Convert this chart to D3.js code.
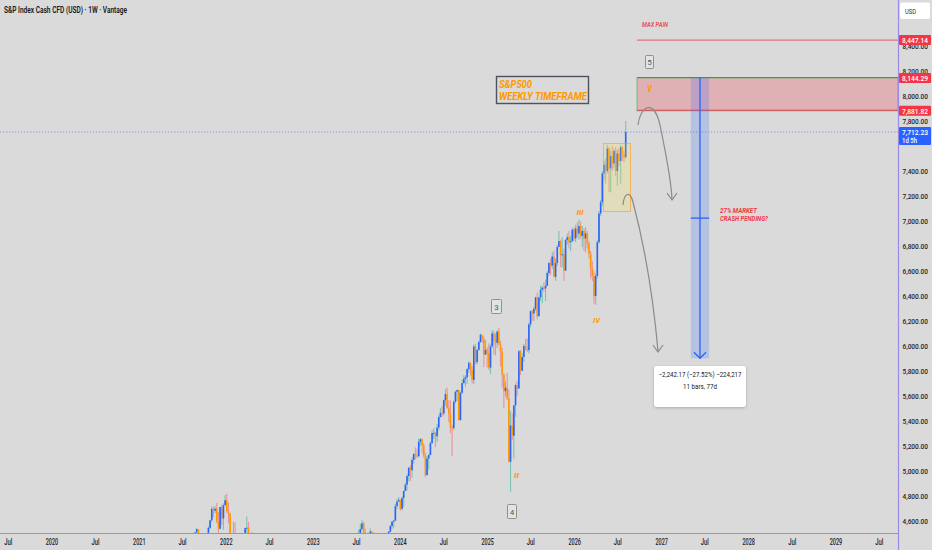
<!DOCTYPE html>
<html><head><meta charset="utf-8">
<script src="https://cdn.jsdelivr.net/npm/d3@7"></script>
<style>html,body{margin:0;padding:0;background:#dadada;overflow:hidden}</style>
</head><body>
<svg id="c" width="932" height="550"></svg>
<script>
// ---------------- DATA ----------------
const startWeek = "2021-07-05";   // Monday of first weekly bar
const firstOpen = 4353;
const weeklyClose = [
 4369,4327,4411,4395,4437,4468,4441,4509,4535,4458,4432,4455,4357,4391,4471,4545,4605,4697,4682,4698,4595,4538,4712,4620,4726,4766,
 4677,4662,4398,4432,4500, 4419,4349,4385,4329, 4204,4463,4543,4546, 4488,4393,4272,4132, 4123,4023,3901,4158,4109, 3901,3675,3912,3825, 3899,3863,3962,4130, 4145,4280,4228,4058,3924, 4067,3873,3693,3586, 3640,3583,3753,3901,3771, 3993,3965,4026,4072, 3934,3852,3845,3840,
 3895,3999,3973,4071,4136, 4090,4079,3970,4046, 3862,3917,3971,4109, 4105,4138,4133,4169, 4136,4124,4192,4205,4282, 4299,4409,4348,4450, 4399,4505,4536,4582,4478, 4464,4370,4406,4516, 4457,4450,4320,4288, 4308,4327,4224,4117,4358, 4415,4514,4559,4595, 4604,4719,4755,4770,
 4697,4784,4840,4891,4959, 5027,5006,5089,5137, 5124,5117,5234,5254, 5204,5123,4967,5100,5128, 5223,5303,5305,5278, 5347,5431,5465,5460, 5567,5615,5505,5459,5347, 5344,5554,5634,5648, 5408,5626,5703,5738,5751, 5815,5865,5808,5729, 5996,5871,5969,6032, 6090,6051,5931,5970,5942,
 5827,5997,6101,6041, 6026,6115,6013,5955, 5770,5639,5667,5581,5074, 5363,5283,5525,5687, 5660,5958,5802,5912, 6000,5977,5967,6173,6279, 6260,6297,6389,6238, 6389,6450,6467,6460, 6482,6584,6664,6644,6716, 6553,6664,6792,6840, 6728,6734,6603,6849, 6870,6830,6840,6930,6860,
 6940,6900,6960,6880, 6920,6860,6900,6820, 6740,6620,6560,6400,6560, 6830,7060,7150,7380, 7450,7400,7580,7420, 7520,7460,7560,7400,7540, 7480,7590,7530,7510, 7712.23
];
const weeklyHigh = [
 4372,4393,4415,4429,4442,4470,4480,4513,4545,4536,4486,4465,4466,4429,4475,4559,4608,4718,4714,4718,4744,4672,4713,4731,4740,4808,
 4819,4749,4660,4453,4595, 4590,4490,4385,4402, 4327,4465,4546,4637, 4593,4471,4513,4309, 4308,4081,4090,4159,4178, 4169,3838,3913,3946, 3918,3880,4012,4140, 4167,4280,4325,4218,4062, 4076,4119,3899,3733, 3806,3712,3762,3905,3911, 4001,4028,4034,4100, 4052,4101,3877,3878,
 3906,4003,4015,4094,4195, 4176,4195,4079,4049, 4079,3964,4039,4110, 4133,4163,4170,4170, 4187,4154,4212,4213,4291, 4322,4448,4408,4458, 4456,4528,4578,4607,4595, 4540,4490,4448,4541, 4515,4511,4466,4339, 4324,4398,4393,4259,4366, 4418,4520,4568,4596, 4609,4738,4778,4793,
 4754,4798,4842,4907,4976, 5031,5048,5111,5141, 5189,5179,5261,5264, 5263,5222,5149,5123,5139, 5239,5325,5342,5313, 5376,5447,5505,5523, 5570,5655,5669,5566,5566, 5370,5564,5643,5651, 5651,5636,5733,5767,5765, 5822,5878,5869,5842, 6012,6018,5978,6044, 6099,6085,6078,6050,5991,
 6022,6014,6128,6120, 6101,6127,6147,6043, 5986,5783,5715,5787,5655, 5481,5460,5528,5700, 5721,5969,5968,5943, 6016,6059,6060,6187,6284, 6290,6315,6395,6427, 6395,6482,6482,6508, 6533,6600,6672,6700,6750, 6765,6700,6808,6920, 6850,6870,6780,6855, 6900,6920,6880,6945,6950,
 6970,6990,7010,7000, 6960,6940,6950,6920, 6840,6760,6680,6600,6580, 6850,7080,7170,7400, 7480,7500,7610,7590, 7560,7600,7580,7590,7570, 7580,7610,7600,7560, 7800
];
const weeklyLow = [
 4321,4321,4233,4367,4385,4424,4367,4442,4514,4457,4427,4305,4288,4278,4329,4460,4537,4595,4630,4660,4585,4495,4532,4571,4531,4733,
 4662,4582,4395,4222,4451, 4401,4327,4115,4279, 4157,4161,4424,4506, 4450,4381,4267,4124, 4062,3859,3810,3875,4074, 3900,3637,3705,3738, 3743,3721,3819,3913, 4080,4112,4217,4057,3907, 3886,3856,3647,3584, 3637,3492,3590,3753,3698, 3764,3906,3933,3938, 3918,3827,3764,3783,
 3794,3877,3885,3949,4015, 4061,4048,3944,3928, 3847,3809,3899,3951, 4069,4072,4113,4049, 4048,4098,4109,4103,4166, 4261,4290,4341,4328, 4385,4389,4491,4524,4474, 4461,4335,4356,4406, 4430,4448,4316,4238, 4216,4289,4223,4104,4113, 4341,4406,4511,4537, 4546,4599,4697,4751,
 4682,4687,4714,4842,4845, 4917,4920,4946,5058, 5094,5104,5138,5203, 5146,5107,4953,5001,5011, 5128,5219,5257,5191, 5234,5327,5428,5433, 5444,5523,5497,5390,5302, 5119,5328,5540,5560, 5403,5402,5614,5698,5674, 5696,5784,5762,5703, 5696,5854,5853,5963, 6024,6024,5832,5933,5829,
 5809,5774,5989,5932, 5923,5986,6008,5837, 5667,5505,5597,5567,5069, 4835,5247,5101,5434, 5602,5786,5768,5843, 5873,5964,5952,5943,6150, 6202,6201,6281,6212, 6238,6360,6343,6437, 6360,6480,6560,6570,6616, 6550,6520,6640,6800, 6630,6630,6521,6600, 6810,6780,6760,6830,6840,
 6830,6870,6850,6860, 6790,6760,6750,6780, 6700,6540,6520,6340,6330, 6540,6820,7040,7120, 7330,7300,7380,7230, 7230,7400,7420,7360,7280, 7440,7300,7480,7470, 7500
];
// 7,600 is hidden behind the last-price tag in the reference, so it is not listed
const priceTicks = [4600,4800,5000,5200,5400,5600,5800,6000,6200,6400,6600,6800,7000,7200,7400,7800,8000,8200,8400];
const timeTicks = ["2019-07-01","2020-01-01","2020-07-01","2021-01-01","2021-07-01","2022-01-01","2022-07-01","2023-01-01","2023-07-01","2024-01-01","2024-07-01","2025-01-01","2025-07-01","2026-01-01","2026-07-01","2027-01-01","2027-07-01","2028-01-01","2028-07-01","2029-01-01","2029-07-01"];
const maxPainPrice = 8447.14;
const zoneTopPrice = 8144.29;
const zoneBottomPrice = 7881.82;
const lastPrice = 7712.23;
const measureTarget = 5902.12;
const measureStart = "2027-05-03", measureEnd = "2027-07-19";

// ---------------- SETUP ----------------
const W = 932, H = 550, plotR = 898, plotB = 533;
const svg = d3.select("#c");
const parse = d3.utcParse("%Y-%m-%d");
const x = d3.scaleUtc().domain([parse("2020-01-01"), parse("2029-01-01")]).range([52, 836]);
const y = d3.scaleLinear().domain([4504, 8768]).range([plotB, 0]);
const FONT = "Roboto, 'Liberation Sans', 'DejaVu Sans', sans-serif";

const defs = svg.append("defs");
defs.append("clipPath").attr("id","plotClip").append("rect").attr("x",0).attr("y",0).attr("width",plotR).attr("height",plotB);
const f = defs.append("filter").attr("id","shadow").attr("x","-20%").attr("y","-30%").attr("width","140%").attr("height","170%");
f.append("feDropShadow").attr("dx",0).attr("dy",1).attr("stdDeviation",1.5).attr("flood-color","#000").attr("flood-opacity",0.22);

function txt(g, px, py, s, o = {}) {
  const t = g.append("text").attr("x", px).attr("y", py).text(s)
    .attr("font-family", o.family || FONT)
    .attr("font-size", o.size || 8.5)
    .attr("fill", o.fill || "#131722")
    .attr("text-anchor", o.anchor || "start");
  if (o.weight) t.attr("font-weight", o.weight);
  if (o.italic) t.attr("font-style", "italic");
  if (o.width) t.attr("textLength", o.width).attr("lengthAdjust", "spacingAndGlyphs");
  return t;
}

svg.append("rect").attr("width", W).attr("height", H).attr("fill", "#dadada");

const t0 = parse(startWeek);
const bars = weeklyClose.map((c, i) => {
  const open = i ? weeklyClose[i - 1] : firstOpen;
  return {
    date: d3.utcDay.offset(t0, 7 * i), open, close: c,
    high: Math.max(weeklyHigh[i], open, c), low: Math.min(weeklyLow[i], open, c)
  };
});

const plot = svg.append("g").attr("clip-path", "url(#plotClip)");

// last price dotted line
plot.append("line").attr("x1", 0).attr("x2", plotR).attr("y1", y(lastPrice)).attr("y2", y(lastPrice))
  .attr("stroke", "#2962ff").attr("stroke-opacity", 0.5).attr("stroke-width", 1).attr("stroke-dasharray", "1.2,1.8");

// red zone
const zx0 = 637;
plot.append("rect").attr("x", zx0).attr("y", y(zoneTopPrice)).attr("width", plotR - zx0).attr("height", y(zoneBottomPrice) - y(zoneTopPrice))
  .attr("fill", "#f23645").attr("fill-opacity", 0.25).attr("stroke", "#4caf50").attr("stroke-opacity", 0.55).attr("stroke-width", 1.2);
[zoneTopPrice, zoneBottomPrice].forEach(p => {
  plot.append("line").attr("x1", zx0).attr("x2", plotR).attr("y1", y(p) - 0.5).attr("y2", y(p) - 0.5)
    .attr("stroke", "#e04450").attr("stroke-width", 1.1);
});
// max pain line
plot.append("line").attr("x1", zx0).attr("x2", plotR).attr("y1", y(maxPainPrice)).attr("y2", y(maxPainPrice))
  .attr("stroke", "#e8707a").attr("stroke-width", 1.2);

// measure band
const mx0 = x(parse(measureStart)), mx1 = x(parse(measureEnd)), mxc = (mx0 + mx1) / 2;
const my0 = y(zoneTopPrice), my1 = y(measureTarget);
plot.append("rect").attr("x", mx0).attr("y", my0).attr("width", mx1 - mx0).attr("height", my1 - my0)
  .attr("fill", "#2962ff").attr("fill-opacity", 0.2);
plot.append("line").attr("x1", mxc).attr("x2", mxc).attr("y1", my0).attr("y2", my1)
  .attr("stroke", "#2962ff").attr("stroke-width", 1.3);
plot.append("line").attr("x1", mx0).attr("x2", mx1).attr("y1", (my0 + my1) / 2).attr("y2", (my0 + my1) / 2)
  .attr("stroke", "#2962ff").attr("stroke-width", 1.3);
plot.append("path").attr("d", `M${mxc - 6},${my1 - 6}L${mxc},${my1}L${mxc + 6},${my1 - 6}`)
  .attr("fill", "none").attr("stroke", "#2962ff").attr("stroke-width", 1.3);

// candles
const bw = 1.6;
const cg = plot.append("g");
cg.selectAll("line.w").data(bars).join("line").attr("class", "w")
  .attr("x1", d => x(d.date)).attr("x2", d => x(d.date))
  .attr("y1", d => y(d.high)).attr("y2", d => y(d.low))
  .attr("stroke", d => d.close >= d.open ? "#7cc2b4" : "#e8959a").attr("stroke-width", 1.1);
cg.selectAll("rect.b").data(bars).join("rect").attr("class", "b")
  .attr("x", d => x(d.date) - bw / 2).attr("width", bw)
  .attr("y", d => y(Math.max(d.open, d.close)))
  .attr("height", d => Math.max(1, Math.abs(y(d.open) - y(d.close))))
  .attr("fill", d => d.close >= d.open ? "#2962ff" : "#ff9800");

// yellow consolidation box
plot.append("rect").attr("x", 603.5).attr("y", 143.5).attr("width", 27).attr("height", 68)
  .attr("fill", "#ffeb3b").attr("fill-opacity", 0.2).attr("stroke", "#ff9800").attr("stroke-opacity", 0.55).attr("stroke-width", 1);

// grey projection arrows
const arrowStyle = s => s.attr("fill", "none").attr("stroke", "#8a8a8a").attr("stroke-width", 1.2);
arrowStyle(plot.append("path").attr("d", "M638,125 C640,106 655,96 661,130 C666,155 671,178 672,199"));
arrowStyle(plot.append("path").attr("d", "M667,193 L672,200 L677,193"));
arrowStyle(plot.append("path").attr("d", "M623,205 C624,193 630,190 633,202 C643,240 653,295 658,351"));
arrowStyle(plot.append("path").attr("d", "M653,345 L658,352 L663,345"));

// text annotations
txt(plot, 642, 27, "MAX PAIN", { size: 7, italic: true, weight: 600, fill: "#ea4a57", width: 26 });
txt(plot, 647, 92, "V", { size: 9, italic: true, weight: 700, fill: "#ff9800", width: 5 });
txt(plot, 720, 213, "27% MARKET", { size: 7.5, italic: true, weight: 700, fill: "#f23645", width: 37 });
txt(plot, 720, 220.5, "CRASH PENDING?", { size: 7.5, italic: true, weight: 700, fill: "#f23645", width: 48 });
// wave labels
function waveBox(cx, top, h, w, s) {
  plot.append("rect").attr("x", cx - w / 2).attr("y", top).attr("width", w).attr("height", h)
    .attr("fill", "#e3e3e3").attr("stroke", "#8f8f8f").attr("stroke-width", 1).attr("rx", 1);
  txt(plot, cx, top + h / 2 + 3, s, { size: 8, anchor: "middle", fill: "#2c6b6b" });
}
waveBox(649.5, 55.5, 13, 8, "5");
waveBox(496.5, 299.5, 14, 10, "3");
waveBox(512, 504.5, 14, 9, "4");
txt(plot, 576.5, 215, "III", { size: 8, italic: true, weight: 700, fill: "#ff9800", width: 7 });
txt(plot, 593, 322.5, "IV", { size: 8, italic: true, weight: 700, fill: "#ff9800", width: 7 });
txt(plot, 514, 477.5, "II", { size: 7, italic: true, weight: 700, fill: "#ff9800", width: 5 });

// title box
plot.append("rect").attr("x", 496.5).attr("y", 76.5).attr("width", 92).attr("height", 27)
  .attr("fill", "none").attr("stroke", "#4f535e").attr("stroke-width", 1.4);
txt(plot, 499, 88, "S&P500", { size: 10, italic: true, weight: 700, fill: "#ff9800", width: 33 });
txt(plot, 499, 100, "WEEKLY TIMEFRAME", { size: 10, italic: true, weight: 700, fill: "#ff9800", width: 88 });

// measure label
svg.append("rect").attr("x", 654).attr("y", 366).attr("width", 92).attr("height", 41).attr("rx", 3)
  .attr("fill", "#ffffff").attr("filter", "url(#shadow)");
txt(svg, 700, 377, "\u22122,242.17 (\u221227.52%) \u2212224,217", { size: 7.5, anchor: "middle", width: 83 });
txt(svg, 700, 389, "11 bars, 77d", { size: 7.5, anchor: "middle", width: 34 });

// ---------------- AXES ----------------
const axisCol = "#9b8ae6";
svg.append("line").attr("x1", 0).attr("x2", plotR).attr("y1", plotB + 0.5).attr("y2", plotB + 0.5).attr("stroke", axisCol).attr("stroke-width", 1.2);
svg.append("line").attr("x1", plotR + 0.5).attr("x2", plotR + 0.5).attr("y1", 0).attr("y2", H).attr("stroke", axisCol).attr("stroke-width", 1.2);

const fmt = d3.format(",.2f");
priceTicks.forEach(p => {
  txt(svg, 902.5, y(p) + 2.8, fmt(p), { size: 7.3, weight: 500, fill: "#1e222d", width: 25.5 });
});
const yearFmt = d3.utcFormat("%Y"), monFmt = d3.utcFormat("%b");
timeTicks.forEach(s => {
  const d = parse(s);
  const isYear = d.getUTCMonth() === 0;
  txt(svg, x(d), 545, isYear ? yearFmt(d) : monFmt(d), { size: 8.5, anchor: "middle", fill: "#1e222d", weight: 500, width: isYear ? 12.5 : 8 });
});

// price labels on axis
function priceTag(p, col) {
  const cy = y(p);
  svg.append("rect").attr("x", 899).attr("y", cy - 5).attr("width", 32).attr("height", 10).attr("rx", 1).attr("fill", col);
  txt(svg, 902, cy + 2.8, fmt(p), { size: 7.3, weight: 500, fill: "#ffffff", width: 26 });
}
priceTag(maxPainPrice, "#f23645");
priceTag(zoneTopPrice, "#f23645");
priceTag(zoneBottomPrice, "#f23645");
{
  const cy = y(lastPrice);
  svg.append("rect").attr("x", 899).attr("y", cy - 5).attr("width", 32).attr("height", 18).attr("rx", 1).attr("fill", "#2962ff");
  txt(svg, 902, cy + 3, fmt(lastPrice), { size: 7.3, weight: 500, fill: "#ffffff", width: 26 });
  txt(svg, 902, cy + 11, "1d 5h", { size: 7.3, weight: 500, fill: "#ffffff", width: 15 });
}
// currency box
svg.append("rect").attr("x", 900).attr("y", 2.5).attr("width", 30).attr("height", 16.5).attr("rx", 2).attr("fill", "#ffffff");
txt(svg, 905, 14, "USD", { size: 8, fill: "#2a2e39", width: 11 });

// header title
txt(svg, 4, 13, "S&P Index Cash CFD (USD) \u00b7 1W \u00b7 Vantage", { size: 9, weight: 600, fill: "#131722", width: 123 });
</script>
</body></html>
